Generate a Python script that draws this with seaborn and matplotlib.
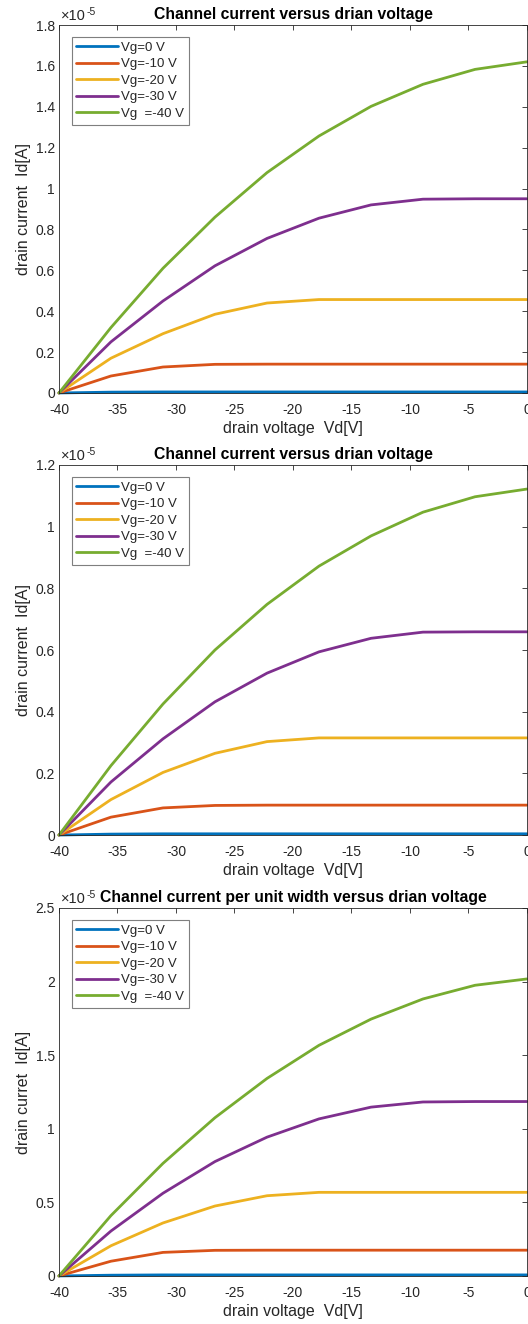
import numpy as np
import pandas as pd
import seaborn as sns
import matplotlib
matplotlib.use("Agg")
import matplotlib.pyplot as plt

# drain voltage sample points (V)
vd = [-40, -35.56, -31.11, -26.67, -22.22, -17.78, -13.33, -8.89, -4.44, 0]
gate_labels = ["Vg=0 V", "Vg=-10 V", "Vg=-20 V", "Vg=-30 V", "Vg  =-40 V"]

# panel 1: channel current, units of 1e-5 A
p1_vg0 = [0, 0.004, 0.005, 0.005, 0.005, 0.005, 0.005, 0.005, 0.005, 0.005]
p1_vg10 = [0, 0.083, 0.127, 0.140, 0.141, 0.141, 0.141, 0.141, 0.141, 0.141]
p1_vg20 = [0, 0.170, 0.290, 0.385, 0.440, 0.457, 0.457, 0.457, 0.457, 0.457]
p1_vg30 = [0, 0.250, 0.450, 0.622, 0.756, 0.855, 0.920, 0.948, 0.950, 0.950]
p1_vg40 = [0, 0.320, 0.610, 0.860, 1.078, 1.257, 1.402, 1.510, 1.583, 1.620]

# panel 2: channel current, units of 1e-5 A
p2_vg0 = [0, 0.003, 0.004, 0.004, 0.004, 0.004, 0.004, 0.004, 0.004, 0.004]
p2_vg10 = [0, 0.058, 0.088, 0.096, 0.097, 0.097, 0.097, 0.097, 0.097, 0.097]
p2_vg20 = [0, 0.115, 0.203, 0.265, 0.303, 0.315, 0.315, 0.315, 0.315, 0.315]
p2_vg30 = [0, 0.172, 0.312, 0.432, 0.525, 0.594, 0.638, 0.658, 0.659, 0.659]
p2_vg40 = [0, 0.225, 0.425, 0.600, 0.748, 0.872, 0.970, 1.047, 1.097, 1.122]

# panel 3: current per unit width, units of 1e-5
p3_vg0 = [0, 0.005, 0.007, 0.007, 0.007, 0.007, 0.007, 0.007, 0.007, 0.007]
p3_vg10 = [0, 0.100, 0.160, 0.174, 0.175, 0.175, 0.175, 0.175, 0.175, 0.175]
p3_vg20 = [0, 0.205, 0.360, 0.475, 0.545, 0.568, 0.568, 0.568, 0.568, 0.568]
p3_vg30 = [0, 0.305, 0.562, 0.777, 0.943, 1.067, 1.147, 1.182, 1.185, 1.185]
p3_vg40 = [0, 0.410, 0.765, 1.075, 1.342, 1.567, 1.745, 1.882, 1.975, 2.018]

titles = ["Channel current versus drian voltage",
          "Channel current versus drian voltage",
          "Channel current per unit width versus drian voltage"]
ylabels = ["drain current  Id[A]", "drain current  Id[A]", "drain curret  Id[A]"]
ymax = [1.8, 1.2, 2.5]
ystep = [0.2, 0.2, 0.5]

panels = [[p1_vg0, p1_vg10, p1_vg20, p1_vg30, p1_vg40],
          [p2_vg0, p2_vg10, p2_vg20, p2_vg30, p2_vg40],
          [p3_vg0, p3_vg10, p3_vg20, p3_vg30, p3_vg40]]

# matlab default colors
colors = ["#0072BD", "#D95319", "#EDB120", "#7E2F8E", "#77AC30"]

sns.set_theme(style="white")
plt.rcParams["font.family"] = ["Liberation Sans", "DejaVu Sans"]
plt.rcParams["axes.unicode_minus"] = False
dark = "#262626"

fig = plt.figure(figsize=(5.28, 13.24), dpi=100)
# axes boxes in figure fractions (left, bottom, width, height)
boxes = [[0.1117, 0.7032, 0.8864, 0.2779],
         [0.1117, 0.3693, 0.8864, 0.2795],
         [0.1117, 0.0363, 0.8864, 0.2779]]

for k in range(3):
    ax = fig.add_axes(boxes[k])
    rows = []
    for lab, vals in zip(gate_labels, panels[k]):
        for x, y in zip(vd, vals):
            rows.append({"Vd": x, "Id": y, "gate": lab})
    df = pd.DataFrame(rows)
    sns.lineplot(data=df, x="Vd", y="Id", hue="gate", hue_order=gate_labels,
                 palette=colors, linewidth=2.0, legend=False, ax=ax)
    for ln in ax.lines:
        ln.set_clip_on(False)

    ax.set_xlim(-40, 0)
    ax.set_ylim(0, ymax[k])
    ax.set_xticks(np.arange(-40, 1, 5))
    ax.set_yticks(np.arange(0, ymax[k] + 0.001, ystep[k]))
    ax.yaxis.set_major_formatter(matplotlib.ticker.FormatStrFormatter("%g"))
    ax.tick_params(direction="in", length=3.5, width=0.6, color=dark,
                   labelsize=10, labelcolor=dark, top=True, right=True)
    ax.tick_params(axis="x", pad=7)
    ax.tick_params(axis="y", pad=3)
    for s in ax.spines.values():
        s.set_color(dark)
        s.set_linewidth(0.6)

    ax.set_title(titles[k], fontsize=11.3, fontweight="bold", color="black", pad=4)
    ax.set_xlabel("drain voltage  Vd[V]", fontsize=11.5, color=dark, labelpad=3)
    ax.set_ylabel(ylabels[k], fontsize=11.5, color=dark, labelpad=3)

    # exponent label: "x10" with a raised "-5"
    ax.annotate("\u00d710", xy=(0, 1), xycoords="axes fraction", xytext=(2, 2),
                textcoords="offset pixels", fontsize=10.5, color=dark,
                ha="left", va="bottom")
    ax.annotate("-5", xy=(0, 1), xycoords="axes fraction", xytext=(28, 8),
                textcoords="offset pixels", fontsize=7.5, color=dark,
                ha="left", va="bottom")

    leg = ax.legend(ax.lines[:5], gate_labels, loc="upper left",
                    bbox_to_anchor=(0.027, 0.968), fontsize=9.5,
                    frameon=True, fancybox=False, framealpha=1,
                    edgecolor="#7f7f7f", handlelength=3.2, handletextpad=0.2,
                    labelspacing=0.33, borderpad=0.35, borderaxespad=0)
    leg.get_frame().set_linewidth(0.8)

fig.savefig("out.png", dpi=100)
